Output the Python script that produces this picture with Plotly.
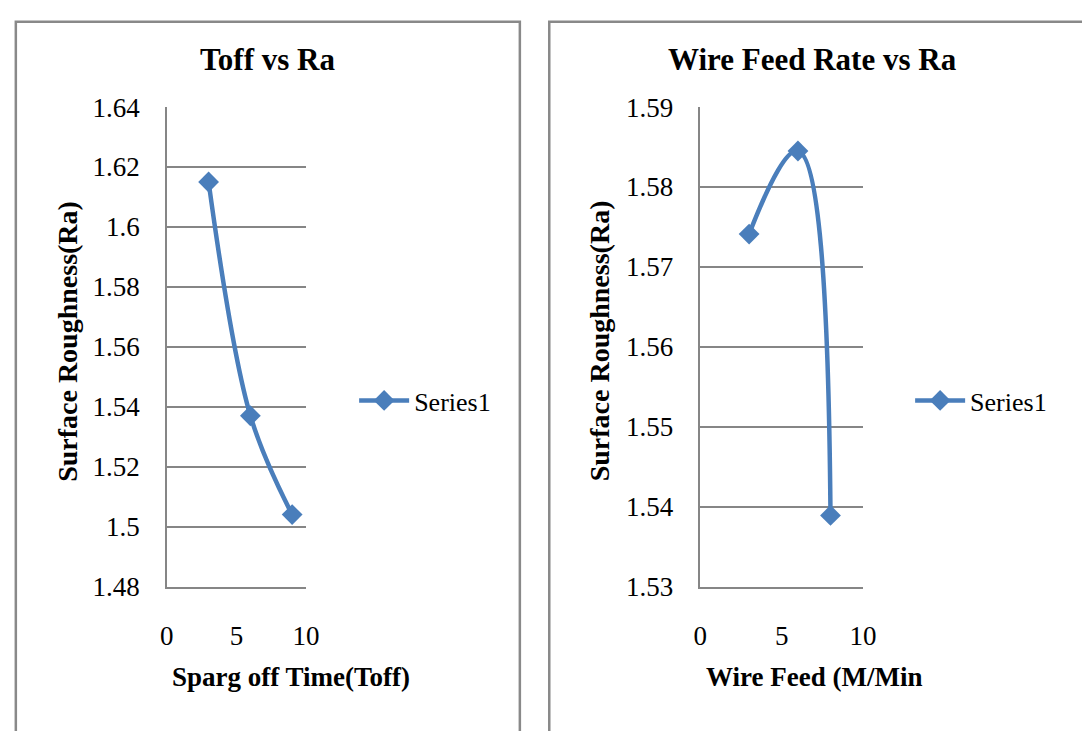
import plotly.graph_objects as go

# ---- data ----
toff_x = [3, 6, 9]
toff_ra = [1.615, 1.537, 1.504]
feed_x = [3, 6, 8]
feed_ra = [1.5741, 1.5845, 1.5389]

left_yticks = [1.48, 1.50, 1.52, 1.54, 1.56, 1.58, 1.60, 1.62, 1.64]
left_yticktext = ["1.48", "1.5", "1.52", "1.54", "1.56", "1.58", "1.6", "1.62", "1.64"]
right_yticks = [1.53, 1.54, 1.55, 1.56, 1.57, 1.58, 1.59]
right_yticktext = ["1.53", "1.54", "1.55", "1.56", "1.57", "1.58", "1.59"]
x_ticks = [0, 5, 10]
x_ticktext = ["0", "5", "10"]

series_name = "Series1"
title_left = "Toff vs Ra"
title_right = "Wire Feed Rate vs Ra"
xtitle_left = "Sparg off Time(Toff)"
xtitle_right = "Wire Feed (M/Min"
ytitle = "Surface Roughness(Ra)"

W, H = 1082, 731
FONT = "Liberation Serif"
BLUE = "#4A7EBB"
GRAY = "#868686"

def px(x):
    return x / W

def py(y):
    return 1 - y / H

fig = go.Figure()
fig.add_trace(go.Scatter(
    x=toff_x, y=toff_ra, name=series_name, mode="lines+markers",
    line=dict(color=BLUE, width=4.5, shape="spline", smoothing=1),
    marker=dict(symbol="diamond", size=16, color=BLUE),
    xaxis="x", yaxis="y", legend="legend"))
fig.add_trace(go.Scatter(
    x=feed_x, y=feed_ra, name=series_name, mode="lines+markers",
    line=dict(color=BLUE, width=4.5, shape="spline", smoothing=1.2),
    marker=dict(symbol="diamond", size=16, color=BLUE),
    xaxis="x2", yaxis="y2", legend="legend2"))

ydom = [py(596), py(96)]
axis_common = dict(showline=True, linecolor=GRAY, linewidth=1.5, ticks="",
                   tickfont=dict(family=FONT, size=27, color="black"),
                   zeroline=False, fixedrange=True)

fig.update_layout(
    width=W, height=H, margin=dict(l=0, r=0, t=0, b=0, pad=0),
    paper_bgcolor="white", plot_bgcolor="white",
    font=dict(family=FONT, color="black"),
    xaxis=dict(domain=[px(163), px(305)], range=[0, 10], tickvals=x_ticks, ticktext=x_ticktext,
               showgrid=False, anchor="y", ticklabelstandoff=24, **axis_common),
    yaxis=dict(domain=ydom, range=[1.48, 1.64], tickvals=left_yticks, ticktext=left_yticktext,
               showgrid=True, gridcolor=GRAY, gridwidth=1.5, anchor="x", ticklabelstandoff=20,
               **axis_common),
    xaxis2=dict(domain=[px(707), px(873)], range=[0, 10], tickvals=x_ticks, ticktext=x_ticktext,
                showgrid=False, anchor="y2", ticklabelstandoff=24, **axis_common),
    yaxis2=dict(domain=ydom, range=[1.53, 1.59], tickvals=right_yticks, ticktext=right_yticktext,
                showgrid=True, gridcolor=GRAY, gridwidth=1.5, anchor="x2", ticklabelstandoff=20,
                **axis_common),
    legend=dict(x=px(354), y=py(402), xanchor="left", yanchor="middle",
                font=dict(family=FONT, size=26, color="black"), bgcolor="rgba(0,0,0,0)",
                itemwidth=50),
    legend2=dict(x=px(921), y=py(402), xanchor="left", yanchor="middle",
                 font=dict(family=FONT, size=26, color="black"), bgcolor="rgba(0,0,0,0)",
                 itemwidth=50),
    showlegend=True,
)

# panel borders
fig.add_shape(type="rect", xref="paper", yref="paper", x0=px(9), x1=px(523), y0=-0.1, y1=py(7),
              line=dict(color="#898989", width=2.5), layer="below")
fig.add_shape(type="rect", xref="paper", yref="paper", x0=px(553), x1=1.1, y0=-0.1, y1=py(7),
              line=dict(color="#898989", width=2.5), layer="below")

def ann(text, x, y, size, angle=0):
    fig.add_annotation(text="<b>%s</b>" % text, x=px(x), y=py(y), xref="paper", yref="paper",
                       xanchor="center", yanchor="middle", showarrow=False, textangle=angle,
                       font=dict(family=FONT, size=size, color="black"))

ann(title_left, 266, 46, 31)
ann(title_right, 821, 46, 31)
ann(xtitle_left, 290, 690, 27)
ann(xtitle_right, 823, 690, 27)
ann(ytitle, 61, 340, 28, -90)
ann(ytitle, 604, 340, 28, -90)

fig.write_html("out.html")
